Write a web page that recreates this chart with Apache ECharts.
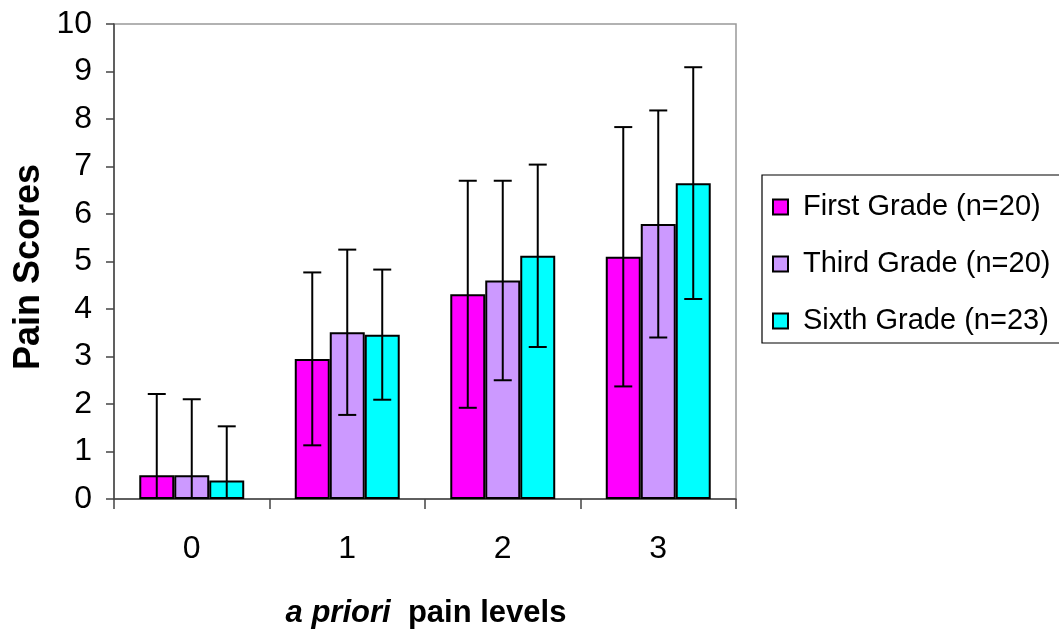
<!DOCTYPE html>
<html>
<head>
<meta charset="utf-8">
<script src="https://cdn.jsdelivr.net/npm/echarts@6/dist/echarts.min.js"></script>
<style>
html,body{margin:0;padding:0;background:#fff;}
#chart{width:1059px;height:630px;}
</style>
</head>
<body>
<div id="chart"></div>
<script>
const categories = ['0', '1', '2', '3'];
const seriesNames = ['First Grade (n=20)', 'Third Grade (n=20)', 'Sixth Grade (n=23)'];
const firstMean = [0.5, 2.95, 4.31, 5.10];
const firstSD   = [1.71, 1.82, 2.39, 2.73];
const thirdMean = [0.5, 3.51, 4.60, 5.79];
const thirdSD   = [1.60, 1.74, 2.10, 2.39];
const sixthMean = [0.39, 3.46, 5.12, 6.65];
const sixthSD   = [1.14, 1.37, 1.92, 2.44];
const yTicks = ['0','1','2','3','4','5','6','7','8','9','10'];

const colors = ['#FF00FF', '#CC99FF', '#00FFFF'];
const means = [firstMean, thirdMean, sixthMean];
const sds = [firstSD, thirdSD, sixthSD];
const CAT_GAP = 0.325;
const FONT = 'Liberation Sans, Arial, sans-serif';

function errRender(si) {
  return function (params, api) {
    const cat = api.value(0), mean = api.value(1), sd = api.value(2);
    const band = api.size([1, 0])[0];
    const groupW = band * (1 - CAT_GAP);
    const bw = groupW / 3;
    const cx = api.coord([cat, 0])[0] - groupW / 2 + bw * (si + 0.5);
    const yT = api.coord([cat, mean + sd])[1];
    const yB = api.coord([cat, mean - sd])[1];
    const hw = 9;
    const st = { stroke: '#000', lineWidth: 2 };
    return {
      type: 'group',
      children: [
        { type: 'line', shape: { x1: cx, y1: yT, x2: cx, y2: yB }, style: st },
        { type: 'line', shape: { x1: cx - hw, y1: yT, x2: cx + hw, y2: yT }, style: st },
        { type: 'line', shape: { x1: cx - hw, y1: yB, x2: cx + hw, y2: yB }, style: st }
      ]
    };
  };
}

const series = [];
seriesNames.forEach((name, i) => {
  series.push({
    name: name,
    type: 'bar',
    data: means[i],
    barGap: '0%',
    barCategoryGap: (CAT_GAP * 100) + '%',
    itemStyle: { color: colors[i], borderColor: '#000', borderWidth: 2 },
    z: 2
  });
});
seriesNames.forEach((name, i) => {
  series.push({
    name: name + ' err',
    type: 'custom',
    renderItem: errRender(i),
    data: means[i].map((m, k) => [k, m, sds[i][k]]),
    encode: { x: 0, y: 1 },
    clip: true,
    z: 5,
    silent: true
  });
});

const chart = echarts.init(document.getElementById('chart'), null, { renderer: 'canvas' });
chart.setOption({
  animation: false,
  backgroundColor: '#fff',
  textStyle: { fontFamily: FONT, color: '#000' },
  grid: { left: 114, right: 323, top: 24, bottom: 131, show: true, borderColor: '#999', borderWidth: 1.5, backgroundColor: 'transparent' },
  legend: {
    data: seriesNames,
    orient: 'vertical',
    left: 772,
    top: 192,
    padding: 0,
    itemGap: 27,
    itemWidth: 15,
    itemHeight: 15,
    icon: 'rect',
    textStyle: { fontSize: 29, lineHeight: 30, color: '#000', fontFamily: FONT, padding: [0, 0, 0, 10] }
  },
  xAxis: {
    type: 'category',
    data: categories,
    axisLine: { lineStyle: { color: '#444', width: 1.5 } },
    axisTick: { show: true, length: 10, lineStyle: { color: '#444', width: 1.5 } },
    axisLabel: { fontSize: 32, color: '#000', margin: 34, fontFamily: FONT },
    splitLine: { show: false }
  },
  yAxis: {
    type: 'value',
    min: 0,
    max: 10,
    interval: 1,
    axisLine: { show: true, lineStyle: { color: '#444', width: 1.5 } },
    axisTick: { show: true, length: 8, lineStyle: { color: '#444', width: 1.5 } },
    axisLabel: {
      fontSize: 32, color: '#000', margin: 22, fontFamily: FONT,
      formatter: function (v) { return yTicks[Math.round(v)]; }
    },
    splitLine: { show: false }
  },
  graphic: [
    {
      type: 'rect',
      shape: { x: 762, y: 175, width: 310, height: 168 },
      style: { fill: 'none', stroke: '#000', lineWidth: 1.2 },
      z: 1
    },
    {
      type: 'text',
      x: 29, y: 267,
      rotation: Math.PI / 2,
      style: {
        text: 'Pain Scores',
        fontSize: 36, fontWeight: 'bold', fill: '#000',
        fontFamily: FONT,
        align: 'center', verticalAlign: 'middle'
      }
    },
    {
      type: 'text',
      x: 426, y: 613,
      style: {
        text: '{i|a priori}{b|  pain levels}',
        align: 'center', verticalAlign: 'middle',
        rich: {
          i: { fontSize: 31, fontWeight: 'bold', fontStyle: 'italic', fill: '#000', fontFamily: FONT },
          b: { fontSize: 31, fontWeight: 'bold', fill: '#000', fontFamily: FONT }
        }
      }
    }
  ],
  series: series
});
</script>
</body>
</html>
